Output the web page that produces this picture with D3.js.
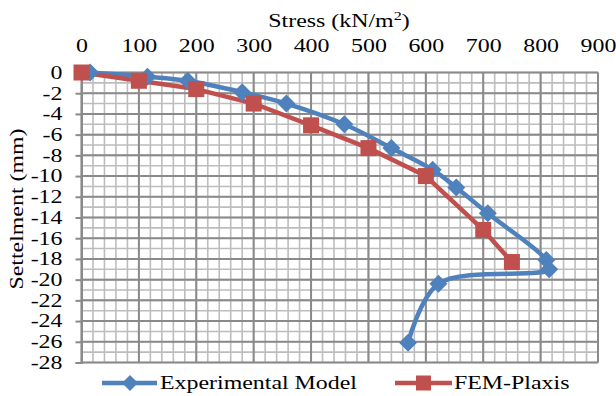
<!DOCTYPE html>
<html>
<head>
<meta charset="utf-8">
<script src="https://cdn.jsdelivr.net/npm/d3@7"></script>
<style>
  html, body { margin: 0; padding: 0; background: #fff; }
  svg { display: block; }
</style>
</head>
<body>
<svg id="chart" width="616" height="396"></svg>
<script>
// Load test results: stress (kN/m²) vs settlement (mm)
const expStress = [15, 115, 185, 280, 357, 458, 540, 612, 653, 708, 810, 815, 622, 569];
const expSettle = [0, -0.4, -0.8, -1.9, -3.0, -5.0, -7.3, -9.4, -11.1, -13.6, -18.1, -19.0, -20.4, -26.1];
const femStress = [0, 100, 200, 300, 400, 500, 600, 700, 750];
const femSettle = [0, -0.8, -1.6, -3.0, -5.1, -7.3, -10.0, -15.2, -18.3];

const xTicks = [0, 100, 200, 300, 400, 500, 600, 700, 800, 900];
const yTicks = [0, -2, -4, -6, -8, -10, -12, -14, -16, -18, -20, -22, -24, -26, -28];
const xMinor = d3.range(0, 901, 20);
const yMinor = d3.range(0, -29, -1);

const seriesNames = ["Experimental Model", "FEM-Plaxis"];
const colors = ["#4F81BD", "#C0504D"];

// pick the first Times-like face that is actually installed
const ctx = document.createElement("canvas").getContext("2d");
function widthIn(face) { ctx.font = `20px ${face}`; return ctx.measureText("Experimental Model 0123").width; }
const faces = ["Liberation Serif", "Tinos", "Times New Roman", "Times", "Nimbus Roman", "Nimbus Roman No9 L", "FreeSerif", "Noto Serif", "DejaVu Serif"];
let FAMILY = "serif";
for (const f of faces) {
  if (widthIn(`"${f}", monospace`) !== widthIn("monospace")) { FAMILY = `"${f}"`; break; }
}

const FONT = 18.5;
ctx.font = `${FONT}px ${FAMILY}`;
const SX = Math.max(1, 197 / ctx.measureText(seriesNames[0]).width);   // horizontal widening of the lettering

const svg = d3.select("#chart").style("font-family", FAMILY);
const plotL = 81.5, plotR = 598, plotT = 72.5, plotB = 362.5;

const x = d3.scaleLinear().domain([0, 900]).range([plotL, plotR]);
const y = d3.scaleLinear().domain([0, -28]).range([plotT, plotB]);

// place a text at (px,py) with widened glyphs
function widen(sel, px, py) {
  sel.attr("x", 0).attr("y", 0).attr("transform", `translate(${px},${py}) scale(${SX},1)`);
}

// grid: minor lines first, then major lines on top
const grid = svg.append("g");
grid.selectAll(".vmin").data(xMinor).join("line")
  .attr("x1", d => x(d)).attr("x2", d => x(d))
  .attr("y1", plotT).attr("y2", plotB)
  .attr("stroke", "#bdbdbd").attr("stroke-width", 1.6);
grid.selectAll(".hmin").data(yMinor).join("line")
  .attr("x1", plotL).attr("x2", plotR)
  .attr("y1", d => y(d)).attr("y2", d => y(d))
  .attr("stroke", "#bdbdbd").attr("stroke-width", 1.6);
grid.selectAll(".vmaj").data(xTicks).join("line")
  .attr("x1", d => x(d)).attr("x2", d => x(d))
  .attr("y1", plotT).attr("y2", plotB)
  .attr("stroke", "#8a8a8a").attr("stroke-width", 2);
grid.selectAll(".hmaj").data(yTicks).join("line")
  .attr("x1", plotL).attr("x2", plotR)
  .attr("y1", d => y(d)).attr("y2", d => y(d))
  .attr("stroke", "#8a8a8a").attr("stroke-width", 2);

// left value axis with outward ticks
const yAxis = d3.axisLeft(y).tickValues(yTicks).tickSize(6).tickPadding(10)
  .tickFormat(d => d === 0 ? "0" : "-" + Math.abs(d));
const yg = svg.append("g").attr("transform", `translate(${plotL},0)`).call(yAxis);
yg.attr("font-family", FAMILY).attr("font-size", null);
yg.select(".domain").attr("stroke", "#8a8a8a").attr("stroke-width", 2);
yg.selectAll(".tick line").attr("stroke", "#8a8a8a").attr("stroke-width", 2);
yg.selectAll(".tick text").style("font-size", FONT + "px").attr("fill", "#000")
  .each(function() { widen(d3.select(this), -19, 0); });

// top category axis (labels only)
const xAxis = d3.axisTop(x).tickValues(xTicks).tickSize(0).tickPadding(21);
const xg = svg.append("g").attr("transform", `translate(0,${plotT})`).call(xAxis);
xg.attr("font-family", FAMILY).attr("font-size", null);
xg.select(".domain").remove();
xg.selectAll(".tick text").style("font-size", FONT + "px").attr("fill", "#000")
  .each(function() { widen(d3.select(this), 0, -21); });

// axis titles
const title = svg.append("text").attr("text-anchor", "middle").style("font-size", FONT + "px");
widen(title, 339, 27);
title.append("tspan").text("Stress (kN/m");
title.append("tspan").text("2").attr("dy", -7).style("font-size", "12.5px");
title.append("tspan").text(")").attr("dy", 7);

svg.append("text")
  .attr("transform", `translate(23,209) rotate(-90) scale(${SX},1)`)
  .attr("text-anchor", "middle").style("font-size", FONT + "px")
  .text("Settelment (mm)");

// series
const expData = expStress.map((s, i) => [s, expSettle[i]]);
const femData = femStress.map((s, i) => [s, femSettle[i]]);

const smooth = d3.line().x(d => x(d[0])).y(d => y(d[1])).curve(d3.curveCatmullRom.alpha(0.5));
const straight = d3.line().x(d => x(d[0])).y(d => y(d[1]));

svg.append("path").datum(expData).attr("d", smooth)
  .attr("fill", "none").attr("stroke", colors[0]).attr("stroke-width", 4.5)
  .attr("stroke-linejoin", "round").attr("stroke-linecap", "round");
svg.append("path").datum(femData).attr("d", straight)
  .attr("fill", "none").attr("stroke", colors[1]).attr("stroke-width", 4.5)
  .attr("stroke-linejoin", "round").attr("stroke-linecap", "round");

const diamond = r => `M0,${-r}L${r},0L0,${r}L${-r},0Z`;
svg.append("g").selectAll("path").data(expData).join("path")
  .attr("transform", d => `translate(${x(d[0])},${y(d[1])})`)
  .attr("d", diamond(9)).attr("fill", colors[0]);

svg.append("g").selectAll("rect").data(femData).join("rect")
  .attr("x", d => x(d[0]) - 8).attr("y", d => y(d[1]) - 8)
  .attr("width", 16).attr("height", 16).attr("fill", colors[1]);

// legend
const ly = 383;
const leg = svg.append("g");
leg.append("line").attr("x1", 102).attr("x2", 157).attr("y1", ly).attr("y2", ly)
  .attr("stroke", colors[0]).attr("stroke-width", 4.5);
leg.append("path").attr("transform", `translate(130,${ly})`).attr("d", diamond(8)).attr("fill", colors[0]);
widen(leg.append("text").style("font-size", FONT + "px").text(seriesNames[0]), 160, ly + 6);
leg.append("line").attr("x1", 395).attr("x2", 452).attr("y1", ly).attr("y2", ly)
  .attr("stroke", colors[1]).attr("stroke-width", 4.5);
leg.append("rect").attr("x", 416).attr("y", ly - 7.5).attr("width", 15).attr("height", 15).attr("fill", colors[1]);
widen(leg.append("text").style("font-size", FONT + "px").text(seriesNames[1]), 454, ly + 6);
</script>
</body>
</html>
